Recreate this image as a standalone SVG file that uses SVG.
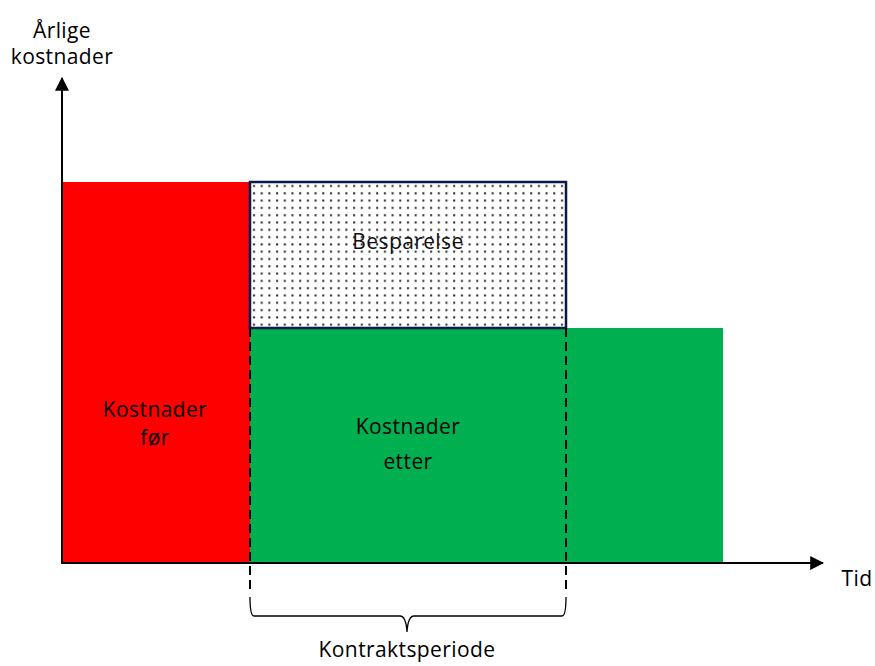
<svg xmlns="http://www.w3.org/2000/svg" width="875" height="666" viewBox="0 0 875 666">
<defs>
<style>
.t{font-family:"Open Sans","Noto Sans","DejaVu Sans",sans-serif;font-size:21px;letter-spacing:0.4px;fill:#000;text-anchor:middle}
.dash{stroke:#000;stroke-width:2;stroke-dasharray:9 5;fill:none}
.ax{stroke:#000;stroke-width:2;fill:none}
</style>
<pattern id="dots" x="250" y="182" width="7.7" height="7.3" patternUnits="userSpaceOnUse">
<rect x="3" y="3" width="2" height="2" fill="#222"/>
</pattern>
<marker id="arr2" viewBox="0 0 12 12" refX="11" refY="6" markerWidth="14" markerHeight="14" markerUnits="userSpaceOnUse" orient="auto">
<path d="M0,0 L12,6 L0,12 z" fill="#000"/>
</marker>
</defs>
<rect width="875" height="666" fill="#fff"/>
<g id="kostnader-for">
<rect x="62" y="182" width="188" height="381" fill="#ff0000"/>
<text class="t" x="155" y="417">Kostnader</text>
<text class="t" x="155" y="445">før</text>
</g>
<g id="kostnader-etter">
<rect x="250" y="328" width="473" height="235" fill="#00b050"/>
<text class="t" x="408" y="434">Kostnader</text>
<text class="t" x="408" y="469">etter</text>
</g>
<g id="besparelse">
<rect x="250" y="182" width="316" height="146" fill="#fff"/>
<rect x="250" y="182" width="316" height="146" fill="url(#dots)" stroke="#0b1a4a" stroke-width="2.5"/>
<text class="t" x="408" y="249" style="fill:#111">Besparelse</text>
</g>
<g id="axes">
<line class="ax" x1="62" y1="564" x2="62" y2="78" marker-end="url(#arr2)"/>
<line class="ax" x1="61" y1="563" x2="823" y2="563" marker-end="url(#arr2)"/>
<text class="t" x="62" y="38">Årlige</text>
<text class="t" x="62" y="64">kostnader</text>
<text class="t" x="857" y="586">Tid</text>
</g>
<g id="connectors">
<line class="dash" x1="250" y1="328" x2="250" y2="590"/>
<line class="dash" x1="566" y1="328" x2="566" y2="590"/>
<path d="M250,597 Q250,616 254,616 L400,616 Q406,616 407,632 Q408,616 414,616 L562,616 Q566,616 566,597" fill="none" stroke="#000" stroke-width="1.3"/>
</g>
<g id="kontraktsperiode">
<text class="t" x="407" y="657">Kontraktsperiode</text>
</g>
</svg>
